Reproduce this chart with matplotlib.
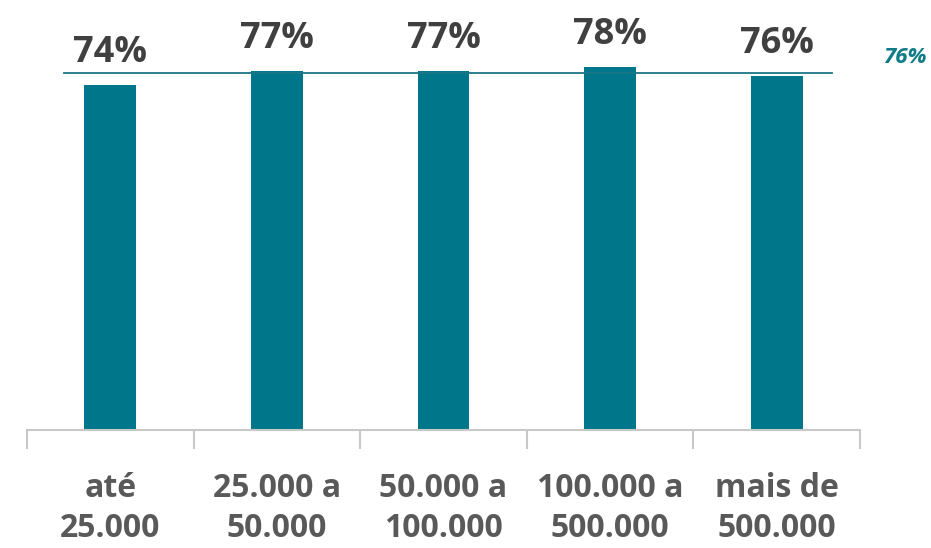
import matplotlib.pyplot as plt
from matplotlib import font_manager

categories = ["até\n25.000", "25.000 a\n50.000", "50.000 a\n100.000",
              "100.000 a\n500.000", "mais de\n500.000"]
values = [74, 77, 77, 78, 76]
average = 76.6
average_label = "76%"

names = {f.name for f in font_manager.fontManager.ttflist}
fam = "Liberation Sans Narrow" if "Liberation Sans Narrow" in names else "Open Sans"
plt.rcParams['font.family'] = [fam, 'DejaVu Sans']

bar_color = '#00768A'

fig = plt.figure(figsize=(9.31, 5.48), dpi=100)
ax = fig.add_axes([27 / 931, (548 - 430) / 548, (860 - 27) / 931, 430 / 548])

x = list(range(len(values)))
ax.bar(x, values, width=0.31, color=bar_color, zorder=2)
ax.set_xlim(-0.5, len(values) - 0.5)
ax.set_ylim(0, 92.3)

for xi, v in zip(x, values):
    ax.text(xi, v + 3.0, f"{v}%", ha='center', va='bottom', fontsize=26,
            fontweight='bold', color='#404040')

# linha da média
ax.plot([-0.28, 4.33], [average, average], color='#1B7686', lw=1.3, zorder=3)
ax.text(4.9, average + 1.0, average_label, ha='right', va='bottom', fontsize=16,
        fontweight='bold', style='italic', color='#0E7C86', clip_on=False)

for s in ['top', 'left', 'right']:
    ax.spines[s].set_visible(False)
ax.spines['bottom'].set_color('#C8C8C8')
ax.spines['bottom'].set_linewidth(1.5)
ax.set_yticks([])

ax.set_xticks([i - 0.5 for i in range(len(values) + 1)], minor=False)
ax.set_xticklabels([])
ax.tick_params(axis='x', which='major', length=14, width=1.5, color='#C8C8C8')
ax.set_xticks(x, minor=True)
ax.set_xticklabels(categories, minor=True, fontsize=23, fontweight='bold',
                   color='#595959', linespacing=1.3)
ax.tick_params(axis='x', which='minor', length=0, pad=30)

fig.savefig("out.png", dpi=100, facecolor='white')
